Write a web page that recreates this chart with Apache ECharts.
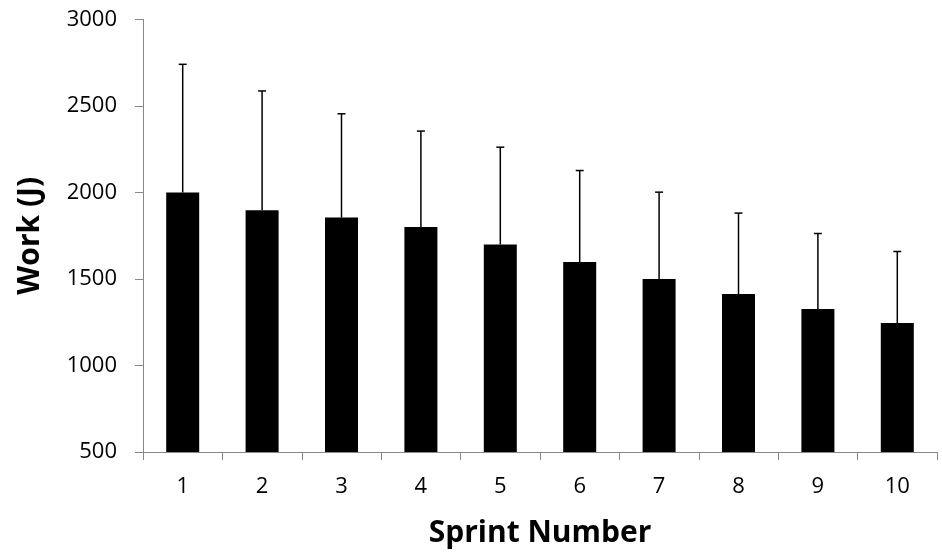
<!DOCTYPE html>
<html>
<head>
<meta charset="utf-8">
<script src="https://cdn.jsdelivr.net/npm/echarts@6/dist/echarts.min.js"></script>
<style>
html,body{margin:0;padding:0;background:#fff;}
#chart{width:942px;height:553px;}
</style>
</head>
<body>
<div id="chart"></div>
<script>
const categories = ['1','2','3','4','5','6','7','8','9','10'];
const meanWork = [2000, 1898, 1855, 1800, 1700, 1598, 1500, 1413, 1326, 1245];
const errorTop = [2741, 2587, 2455, 2355, 2262, 2127, 2002, 1881, 1763, 1659];
const yTicks = [500, 1000, 1500, 2000, 2500, 3000];

const FONT = '"Open Sans", "Liberation Sans", sans-serif';
const chart = echarts.init(document.getElementById('chart'));

const errData = categories.map((c, i) => [i, meanWork[i], errorTop[i]]);

chart.setOption({
  animation: false,
  backgroundColor: '#fff',
  grid: { left: 143, right: 5, top: 19.5, bottom: 100.7 },
  xAxis: {
    type: 'category',
    data: categories,
    name: 'Sprint Number',
    nameLocation: 'middle',
    nameGap: 66,
    nameTextStyle: { fontFamily: FONT, fontSize: 30, fontWeight: 'bold', color: '#000' },
    axisLine: { lineStyle: { color: '#888', width: 1 } },
    axisTick: { show: true, length: 8, alignWithLabel: false, lineStyle: { color: '#888' } },
    axisLabel: { fontFamily: FONT, fontSize: 22, color: '#000', margin: 24 }
  },
  yAxis: {
    type: 'value',
    min: yTicks[0],
    max: yTicks[yTicks.length - 1],
    interval: 500,
    name: 'Work (J)',
    nameLocation: 'middle',
    nameGap: 98,
    nameRotate: 90,
    nameTextStyle: { fontFamily: FONT, fontSize: 30, fontWeight: 'bold', color: '#000' },
    axisLine: { show: true, lineStyle: { color: '#888', width: 1 } },
    axisTick: { show: true, length: 8, lineStyle: { color: '#888' } },
    splitLine: { show: false },
    axisLabel: { fontFamily: FONT, fontSize: 22, color: '#000', margin: 26, formatter: function (v) { return String(v); } }
  },
  series: [
    {
      type: 'bar',
      data: meanWork,
      barWidth: 33,
      itemStyle: { color: '#000' },
      z: 2
    },
    {
      type: 'custom',
      data: errData,
      z: 3,
      renderItem: function (params, api) {
        const idx = api.value(0);
        const base = api.coord([idx, api.value(1)]);
        const top = api.coord([idx, api.value(2)]);
        const cap = 4;
        return {
          type: 'group',
          children: [
            { type: 'line', shape: { x1: base[0], y1: base[1], x2: top[0], y2: top[1] },
              style: { stroke: '#000', lineWidth: 1.5 } },
            { type: 'line', shape: { x1: top[0] - cap, y1: top[1], x2: top[0] + cap, y2: top[1] },
              style: { stroke: '#000', lineWidth: 1.5 } }
          ]
        };
      },
      encode: { x: 0, y: [1, 2] }
    }
  ]
});
</script>
</body>
</html>
